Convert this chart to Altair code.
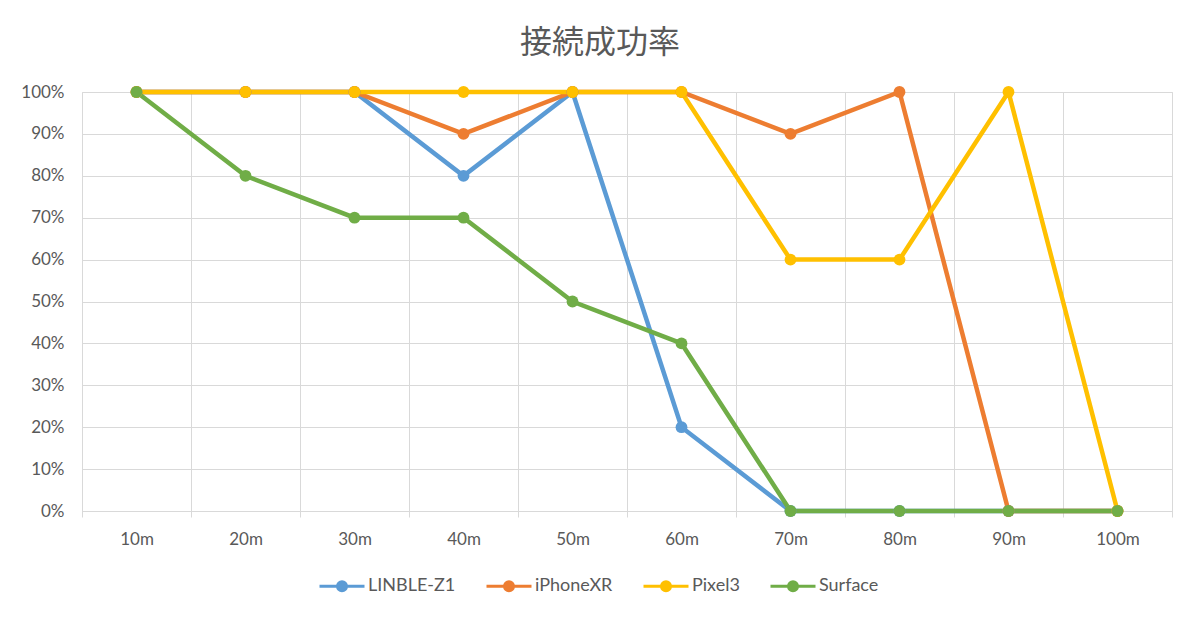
import altair as alt
import pandas as pd

distances = ["10m", "20m", "30m", "40m", "50m", "60m", "70m", "80m", "90m", "100m"]
series_names = ["LINBLE-Z1", "iPhoneXR", "Pixel3", "Surface"]
linble = [100, 100, 100, 80, 100, 20, 0, 0, 0, 0]
iphone = [100, 100, 100, 90, 100, 100, 90, 100, 0, 0]
pixel = [100, 100, 100, 100, 100, 100, 60, 60, 100, 0]
surface = [100, 80, 70, 70, 50, 40, 0, 0, 0, 0]
colors = ["#5B9BD5", "#ED7D31", "#FFC000", "#70AD47"]

rows = []
for si, (name, vals) in enumerate(zip(series_names, [linble, iphone, pixel, surface])):
    for d, v in zip(distances, vals):
        rows.append({"distance": d, "series": name, "rate": v / 100, "s_order": si})
df = pd.DataFrame(rows)

legend_symbol = (
    "M-1,0H1 "
    "M-0.067,0a0.067,0.067 0 1,0 0.134,0a0.067,0.067 0 1,0 -0.134,0 "
    "M-0.2,0a0.2,0.2 0 1,0 0.4,0a0.2,0.2 0 1,0 -0.4,0"
)

FONT = "Lato"
GRAY = "#595959"
GRID = "#d9d9d9"

x_enc = alt.X(
    "distance:N",
    sort=distances,
    title=None,
    scale=alt.Scale(type="band", domain=distances, paddingInner=0, paddingOuter=0),
    axis=alt.Axis(
        tickBand="extent",
        grid=True,
        gridColor=GRID,
        ticks=True,
        tickColor=GRID,
        tickSize=6,
        domainColor=GRID,
        labelAngle=0,
        labelFont=FONT,
        labelFontSize=17,
        labelColor=GRAY,
        labelPadding=14,
    ),
)
y_enc = alt.Y(
    "rate:Q",
    title=None,
    scale=alt.Scale(domain=[0, 1]),
    axis=alt.Axis(
        format=".0%",
        values=[i / 10 for i in range(11)],
        grid=True,
        gridColor=GRID,
        ticks=False,
        domain=False,
        labelFont=FONT,
        labelFontSize=17,
        labelColor=GRAY,
        labelPadding=18,
    ),
)
color_enc = alt.Color(
    "series:N",
    sort=series_names,
    scale=alt.Scale(domain=series_names, range=colors),
    legend=alt.Legend(
        title=None,
        orient="none",
        legendX=236,
        legendY=470,
        direction="horizontal",
        symbolType=legend_symbol,
        symbolSize=2025,
        symbolStrokeWidth=3,
        labelFont=FONT,
        labelFontSize=18,
        labelColor=GRAY,
        labelOffset=2,
        columnPadding=24,
    ),
)

chart = (
    alt.Chart(df)
    .mark_line(
        strokeWidth=4.5,
        point=alt.OverlayMarkDef(filled=True, size=140, opacity=1),
    )
    .encode(x=x_enc, y=y_enc, color=color_enc, order=alt.Order("s_order:Q"))
    .properties(
        width=1090,
        height=419,
        autosize=alt.AutoSizeParams(type="none"),
        padding={"left": 74, "top": 84, "right": 20, "bottom": 100},
        title=alt.TitleParams(
            "接続成功率",
            font="Noto Sans CJK JP",
            fontSize=32,
            fontWeight="normal",
            color=GRAY,
            offset=23,
            dx=-27,
        ),
    )
    .configure_view(stroke=None)
    .configure(background="white")
)

chart.save("out.html", embed_options={"renderer": "svg", "actions": False})
